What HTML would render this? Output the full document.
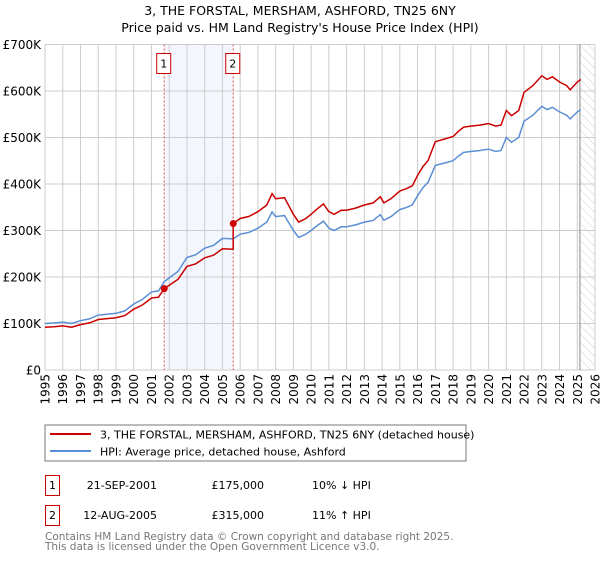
<!DOCTYPE html>
<html><head><meta charset="utf-8"><style>
body{margin:0;background:#fff;font-family:"DejaVu Sans","Liberation Sans",sans-serif;}
svg text{font-family:"DejaVu Sans","Liberation Sans",sans-serif;}
</style></head><body>
<svg id="chart" width="600" height="560" xmlns="http://www.w3.org/2000/svg">
<defs><pattern id="hatch" width="6" height="6" patternUnits="userSpaceOnUse" patternTransform="rotate(-45)"><line x1="0" y1="0" x2="0" y2="6" stroke="#bbb" stroke-width="0.7"/></pattern></defs>
<text x="300" y="15" text-anchor="middle" font-size="12.5">3, THE FORSTAL, MERSHAM, ASHFORD, TN25 6NY</text>
<text x="300" y="32" text-anchor="middle" font-size="12.5">Price paid vs. HM Land Registry's House Price Index (HPI)</text>
<g id="grid"></g>
<g id="marks"></g>
<g id="axes"></g>
<rect x="45" y="425" width="421" height="36" fill="#fff" stroke="#777"/>
<line x1="50" y1="434" x2="91" y2="434" stroke="#cc0000" stroke-width="2"/>
<text x="100" y="438.5" font-size="11">3, THE FORSTAL, MERSHAM, ASHFORD, TN25 6NY (detached house)</text>
<line x1="50" y1="451" x2="91" y2="451" stroke="#5b8fd4" stroke-width="2"/>
<text x="100" y="455.5" font-size="11">HPI: Average price, detached house, Ashford</text>
<g>
<rect x="45.5" y="475.5" width="14" height="20" fill="#fff" stroke="#cc0000"/>
<text x="52.5" y="489" text-anchor="middle" font-size="11">1</text>
<text x="157" y="489" text-anchor="end" font-size="11">21-SEP-2001</text>
<text x="264" y="489" text-anchor="end" font-size="11">£175,000</text>
<text x="312" y="489" font-size="11">10% ↓ HPI</text></g>
<g>
<rect x="45.5" y="505.5" width="14" height="20" fill="#fff" stroke="#cc0000"/>
<text x="52.5" y="519" text-anchor="middle" font-size="11">2</text>
<text x="157" y="519" text-anchor="end" font-size="11">12-AUG-2005</text>
<text x="264" y="519" text-anchor="end" font-size="11">£315,000</text>
<text x="312" y="519" font-size="11">11% ↑ HPI</text></g>
<text x="45" y="540" font-size="10.5" fill="#777">Contains HM Land Registry data © Crown copyright and database right 2025.</text>
<text x="45" y="550" font-size="10.5" fill="#777">This data is licensed under the Open Government Licence v3.0.</text>
</svg>
<script>
const hpiYears=[1995,1995.5,1996,1996.5,1997,1997.5,1998,1998.5,1999,1999.5,2000,2000.5,2001,2001.4,2001.72,2002,2002.5,2003,2003.5,2004,2004.5,2005,2005.6,2006,2006.5,2007,2007.5,2007.8,2008,2008.5,2009,2009.3,2009.7,2010,2010.4,2010.7,2011,2011.3,2011.7,2012,2012.5,2013,2013.5,2013.9,2014.1,2014.5,2015,2015.4,2015.7,2016,2016.3,2016.6,2017,2017.5,2018,2018.3,2018.6,2019,2019.5,2020,2020.4,2020.7,2021,2021.3,2021.7,2022,2022.5,2023,2023.3,2023.6,2024,2024.4,2024.6,2025,2025.2];
const hpiValues=[100,101,103,100,106,110,118,120,122,127,142,152,168,170,190,198,212,242,248,262,268,283,282,292,296,305,318,340,330,332,300,285,292,300,312,320,305,300,308,308,312,318,322,334,322,330,345,350,355,375,392,404,440,445,450,460,468,470,472,475,470,472,500,490,500,535,548,567,560,565,555,548,540,555,560];
const yTicks=[0,100000,200000,300000,400000,500000,600000,700000];
const yTickLabels=["£0","£100K","£200K","£300K","£400K","£500K","£600K","£700K"];
const xTicks=[1995,1996,1997,1998,1999,2000,2001,2002,2003,2004,2005,2006,2007,2008,2009,2010,2011,2012,2013,2014,2015,2016,2017,2018,2019,2020,2021,2022,2023,2024,2025,2026];
const saleDates=[2001.72,2005.61];
const salePrices=[175000,315000];
const saleLabels=["1","2"];
const dataEnd=2025.15;
const NS="http://www.w3.org/2000/svg";
const X0=45,X1=595,Y0=370,Y1=44.5;
const xs=t=>X0+(t-1995)/(2026-1995)*(X1-X0);
const ys=v=>Y0-v/700000*(Y0-Y1);
function el(tag,attrs,parent){const e=document.createElementNS(NS,tag);for(const k in attrs)e.setAttribute(k,attrs[k]);parent.appendChild(e);return e;}
const grid=document.getElementById('grid'),marks=document.getElementById('marks'),axes=document.getElementById('axes');
const sh=el('rect',{x:xs(saleDates[0]),y:Y1,width:xs(saleDates[1])-xs(saleDates[0]),height:Y0-Y1,fill:'#eef3fc',opacity:0.7},grid);


const hz=el('rect',{x:xs(dataEnd),y:Y1,width:X1-xs(dataEnd),height:Y0-Y1,fill:'url(#hatch)'},grid);


yTicks.forEach((v,i)=>{
 const l=el('line',{x1:X0,x2:X1,y1:ys(v),y2:ys(v),stroke:'#ccc','stroke-width':1},grid);
 
 
 const t=el('text',{x:X0-4,y:ys(v)+4.5,'text-anchor':'end','font-size':12},axes);t.textContent=yTickLabels[i];
 
 
});
xTicks.forEach(y=>{
 const l=el('line',{x1:xs(y),x2:xs(y),y1:Y1,y2:Y0,stroke:'#ccc','stroke-width':1},grid);
 
 
 const t=el('text',{x:0,y:0,'text-anchor':'end','font-size':12,transform:`translate(${xs(y)+4.5},374) rotate(-90)`},axes);t.textContent=y;
 
 
});
const el2=el('line',{x1:xs(dataEnd),x2:xs(dataEnd),y1:Y1,y2:Y0,stroke:'#888','stroke-width':1},grid);


saleDates.forEach((d,i)=>{
 const l=el('line',{x1:xs(d),x2:xs(d),y1:Y1,y2:Y0,stroke:'#e05050','stroke-width':1,'stroke-dasharray':'2,2'},grid);
 
 
 const b=el('rect',{x:xs(d)-7.5,y:53.5,width:14,height:20,fill:'#fff',stroke:'#cc0000'},axes);
 
 
 const t=el('text',{x:xs(d)-0.5,y:67.5,'text-anchor':'middle','font-size':11},axes);t.textContent=saleLabels[i];
 
 
});
function hpiAt(t){for(let i=1;i<hpiYears.length;i++){if(t<=hpiYears[i]){const f=(t-hpiYears[i-1])/(hpiYears[i]-hpiYears[i-1]);return hpiValues[i-1]+f*(hpiValues[i]-hpiValues[i-1]);}}return hpiValues[hpiValues.length-1];}
const r1=salePrices[0]/(hpiAt(saleDates[0])*1000), r2=salePrices[1]/(hpiAt(saleDates[1])*1000);
const hp=hpiYears.map((t,i)=>xs(t).toFixed(1)+','+ys(hpiValues[i]*1000).toFixed(1)).join(' ');
const pl=el('polyline',{points:hp,fill:'none',stroke:'#5b8fd4','stroke-width':1.5},marks);


const rp=[];
hpiYears.forEach((t,i)=>{
 if(t>saleDates[1]-0.001 && rp.length && hpiYears[i-1]<saleDates[1]){rp.push([saleDates[1],hpiAt(saleDates[1])*1000*r1]);rp.push([saleDates[1],salePrices[1]]);}
 const r=t<saleDates[1]?r1:r2;rp.push([t,hpiValues[i]*1000*r]);
});
const rl=el('polyline',{points:rp.map(p=>xs(p[0]).toFixed(1)+','+ys(p[1]).toFixed(1)).join(' '),fill:'none',stroke:'#cc0000','stroke-width':1.5},marks);


saleDates.forEach((d,i)=>{
 const c=el('circle',{cx:xs(d),cy:ys(salePrices[i]),r:3.5,fill:'#cc0000'},marks);
 
 
});
</script>
</body></html>
